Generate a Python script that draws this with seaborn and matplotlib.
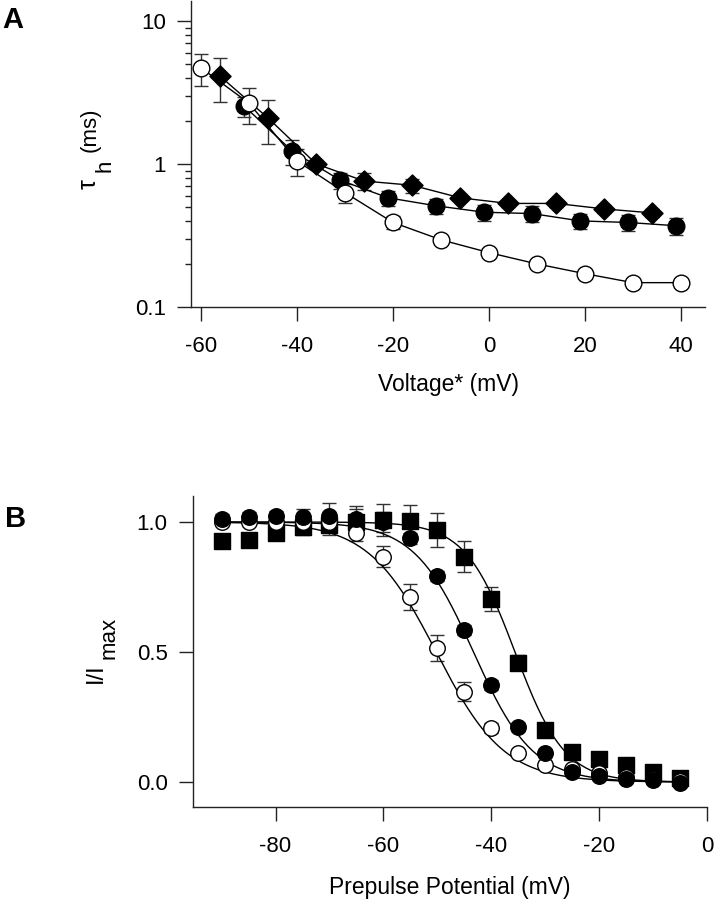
import numpy as np
import pandas as pd
import matplotlib
matplotlib.use('Agg')
import matplotlib.pyplot as plt
import seaborn as sns
from matplotlib.ticker import LogLocator, NullFormatter, FixedLocator

# panel A - inactivation time constant vs voltage
a_open_v = [-60, -50, -40, -30, -20, -10, 0, 10, 20, 30, 40]
a_open_tau = [4.7, 2.66, 1.05, 0.63, 0.39, 0.295, 0.24, 0.20, 0.171, 0.148, 0.148]
a_open_err = [1.2, 0.75, 0.22, 0.1, 0.04, 0.0, 0.0, 0.0, 0.0, 0.0, 0.0]

a_fill_v = [-51, -41, -31, -21, -11, -1, 9, 19, 29, 39]
a_fill_tau = [2.54, 1.23, 0.77, 0.58, 0.51, 0.46, 0.45, 0.40, 0.39, 0.37]
a_fill_err = [0.4, 0.25, 0.1, 0.07, 0.06, 0.06, 0.06, 0.05, 0.05, 0.05]

a_diam_v = [-56, -46, -36, -26, -16, -6, 4, 14, 24, 34]
a_diam_tau = [4.1, 2.09, 1.0, 0.76, 0.71, 0.58, 0.53, 0.53, 0.485, 0.455]
a_diam_err = [1.4, 0.72, 0.07, 0.1, 0.08, 0.03, 0.03, 0.03, 0.03, 0.03]

# panel B - steady-state inactivation
b_v = [-90, -85, -80, -75, -70, -65, -60, -55, -50, -45, -40, -35, -30, -25, -20, -15, -10, -5]
b_open = [1.0, 1.0, 1.0, 1.0, 1.0, 0.958, 0.866, 0.71, 0.515, 0.347, 0.207, 0.113, 0.065, 0.05, 0.036, 0.02, 0.01, 0.005]
b_open_err = [0.01, 0.01, 0.01, 0.01, 0.01, 0.03, 0.04, 0.05, 0.05, 0.036, 0.02, 0.01, 0.01, 0.01, 0.01, 0.01, 0.01, 0.01]
b_fill = [1.01, 1.02, 1.023, 1.02, 1.023, 1.01, 1.0, 0.937, 0.792, 0.585, 0.373, 0.213, 0.11, 0.04, 0.023, 0.01, 0.008, -0.005]
b_fill_err = [0.02, 0.02, 0.02, 0.03, 0.05, 0.05, 0.04, 0.02, 0.02, 0.02, 0.02, 0.015, 0.01, 0.01, 0.01, 0.01, 0.01, 0.01]
b_square = [0.927, 0.93, 0.959, 0.98, 0.99, 1.0, 1.008, 1.005, 0.969, 0.866, 0.703, 0.459, 0.202, 0.116, 0.09, 0.065, 0.04, 0.014]
b_square_err = [0.01, 0.01, 0.02, 0.03, 0.04, 0.05, 0.06, 0.06, 0.065, 0.06, 0.047, 0.03, 0.02, 0.01, 0.01, 0.01, 0.01, 0.01]

# Boltzmann fits (V1/2, slope k)
fit_open = (-50.2, 6.3)
fit_fill = (-43.3, 5.5)
fit_square = (-35.6, 4.6)

sns.set_style('ticks')
plt.rcParams['font.family'] = ['Liberation Sans', 'DejaVu Sans']
plt.rcParams['axes.unicode_minus'] = False
plt.rcParams['axes.linewidth'] = 1.0
plt.rcParams['axes.edgecolor'] = '#222222'
for key in ('text.color', 'axes.labelcolor', 'xtick.labelcolor', 'ytick.labelcolor'):
    plt.rcParams[key] = 'black'

FS = 16
FL = 16.5
W, H = 715, 900
fig = plt.figure(figsize=(7.15, 9), dpi=100)
ax1 = fig.add_axes([191 / W, 1 - 307 / H, (705 - 191) / W, 306 / H])
ax2 = fig.add_axes([192.5 / W, 1 - 807 / H, (707 - 192.5) / W, 311 / H])


def draw_series(ax, x, y, err, marker, face, size, line=True):
    ax.errorbar(x, y, yerr=err, fmt='none', ecolor='#333333', elinewidth=1,
                capsize=5, capthick=1, zorder=1)
    if line:
        sns.lineplot(x=x, y=y, ax=ax, color='black', lw=1, zorder=2)
    sns.scatterplot(x=x, y=y, ax=ax, marker=marker, s=size, color=face,
                    edgecolor='black', linewidth=1, zorder=3, clip_on=False)


def vtext(x, y, s, size=16):
    # vertical label piece, anchored at baseline start (pixel coords)
    fig.text(x / W, 1 - y / H, s, rotation=90, rotation_mode='anchor',
             ha='left', va='baseline', fontsize=size)


# ---- panel A
draw_series(ax1, a_diam_v, a_diam_tau, a_diam_err, 'D', 'black', 115)
draw_series(ax1, a_fill_v, a_fill_tau, a_fill_err, 'o', 'black', 144)
draw_series(ax1, a_open_v, a_open_tau, a_open_err, 'o', 'white', 144)

ax1.set_yscale('log')
ax1.set_ylim(0.1, 13.8)
ax1.set_xlim(-62.1, 45)
ax1.yaxis.set_major_locator(FixedLocator([0.1, 1, 10]))
ax1.set_yticklabels(['0.1', '1', '10'])
ax1.yaxis.set_minor_locator(LogLocator(base=10, subs=np.arange(2, 10)))
ax1.yaxis.set_minor_formatter(NullFormatter())
ax1.set_xticks([-60, -40, -20, 0, 20, 40])
ax1.set_xlabel('Voltage* (mV)', fontsize=FL)
ax1.set_ylabel('')
ax1.xaxis.set_label_coords(0.5, -0.215)
vtext(96, 189, 'τ', 18)
vtext(110, 172, 'h', 16)
vtext(96, 152, '(ms)', 16)

# ---- panel B
vv = np.linspace(-90, -5, 200)
for (vh, k) in (fit_open, fit_fill, fit_square):
    sns.lineplot(x=vv, y=1 / (1 + np.exp((vv - vh) / k)), ax=ax2, color='black', lw=1, zorder=2)
draw_series(ax2, b_v, b_square, b_square_err, 's', 'black', 117, line=False)
draw_series(ax2, b_v, b_open, b_open_err, 'o', 'white', 125, line=False)
draw_series(ax2, b_v, b_fill, b_fill_err, 'o', 'black', 125, line=False)

ax2.set_xlim(-95.4, 0)
ax2.set_ylim(-0.096, 1.1)
ax2.set_xticks([-80, -60, -40, -20, 0])
ax2.set_yticks([0.0, 0.5, 1.0])
ax2.set_yticklabels(['0.0', '0.5', '1.0'])
ax2.set_xlabel('Prepulse Potential (mV)', fontsize=FL)
ax2.set_ylabel('')
ax2.xaxis.set_label_coords(0.5, -0.222)
vtext(102, 683, 'I/I', 17)
vtext(115, 659, 'max', 16)

for ax in (ax1, ax2):
    sns.despine(ax=ax)
    ax.tick_params(axis='both', which='major', length=10, width=1, labelsize=FS,
                   color='#222222', direction='out')
    ax.tick_params(axis='x', pad=11)
    ax.tick_params(axis='y', pad=8)
    ax.tick_params(axis='y', which='minor', length=4.5, width=1, color='#222222')

fig.text(2 / W, 1 - 6 / H, 'A', fontsize=21, fontweight='bold', va='top', ha='left')
fig.text(5 / W, 1 - 505 / H, 'B', fontsize=21, fontweight='bold', va='top', ha='left')

fig.savefig('out.png', dpi=100)
